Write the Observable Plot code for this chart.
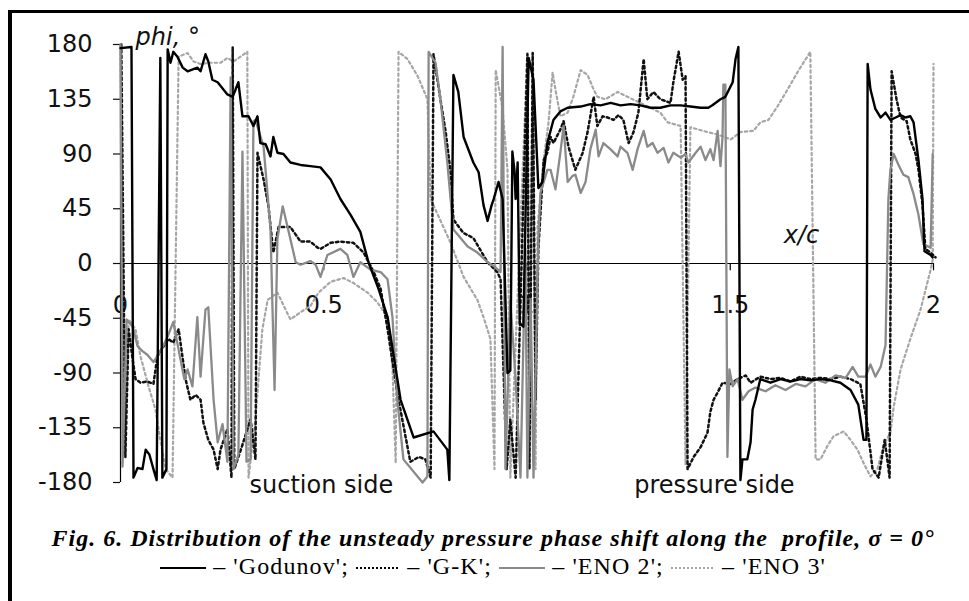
<!DOCTYPE html>
<html>
<head>
<meta charset="utf-8">
<script src="https://cdn.jsdelivr.net/npm/d3@7"></script>
<script src="https://cdn.jsdelivr.net/npm/@observablehq/plot@0.6"></script>
<style>
  html, body { margin: 0; padding: 0; background: #fff; }
  body { width: 969px; height: 601px; position: relative; overflow: hidden; }
  #chart { position: absolute; left: 0; top: 0; }
  #frame { position: absolute; left: 8px; top: 10px; right: 0; bottom: 0; border-left: 4px solid #000; border-top: 3px solid #000; z-index: 5; }
  .cap { position: absolute; left: 0; width: 986px; text-align: center; white-space: pre; font-family: "Liberation Serif", "Times New Roman", serif; color: #000; line-height: 26px; }
  #caption { top: 525px; font-size: 24px; letter-spacing: 1px; font-weight: bold; font-style: italic; }
  #legend { top: 553px; font-size: 24px; letter-spacing: 1.1px; }
  #legend svg { vertical-align: middle; }
</style>
</head>
<body>
<div id="chart"></div>
<div id="frame"></div>
<div id="caption" class="cap">Fig. 6. Distribution of the unsteady pressure phase shift along the  profile, σ = 0°</div>
<div id="legend" class="cap"></div>
<script>
// ---- data (x/c, phase in degrees) ----
const godunov = [[0,177],[0.027,178],[0.032,-176],[0.042,-168],[0.054,-169],[0.062,-153],[0.071,-157],[0.081,-169],[0.089,-178],[0.098,169],[0.103,-176],[0.113,-169],[0.116,176],[0.123,165],[0.130,174],[0.140,170],[0.153,161],[0.165,158],[0.189,161],[0.197,158],[0.209,172],[0.216,166],[0.226,151],[0.239,149],[0.263,139],[0.276,137],[0.290,149],[0.300,121],[0.315,121],[0.327,113],[0.337,121],[0.344,99],[0.357,98],[0.369,88],[0.376,104],[0.386,91],[0.401,90],[0.418,83],[0.443,81],[0.467,80],[0.492,79],[0.517,69],[0.541,53],[0.566,40],[0.590,26],[0.610,1],[0.635,-21],[0.657,-44],[0.689,-112],[0.721,-143],[0.770,-138],[0.804,-153],[0.809,-178],[0.819,155],[0.831,141],[0.844,104],[0.868,83],[0.881,75],[0.893,48],[0.903,35],[0.913,48],[0.918,53],[0.930,67],[0.940,53],[0.952,-90],[0.959,-88],[0.964,92],[0.969,77],[0.972,53],[0.977,83],[0.982,-49],[0.991,-52],[1.004,169],[1.016,151],[1.028,62],[1.038,67],[1.050,99],[1.065,118],[1.082,125],[1.100,128],[1.132,129],[1.156,131],[1.181,130],[1.206,132],[1.230,130],[1.255,131],[1.279,130],[1.304,128],[1.328,128],[1.353,130],[1.378,130],[1.402,129],[1.427,128],[1.446,128],[1.456,130],[1.476,135],[1.488,137],[1.506,149],[1.513,168],[1.520,178],[1.525,-178],[1.530,-161],[1.542,-161],[1.550,-147],[1.555,-120],[1.562,-112],[1.574,-95],[1.599,-98],[1.624,-95],[1.648,-97],[1.673,-95],[1.697,-96],[1.722,-95],[1.747,-96],[1.771,-98],[1.796,-104],[1.815,-116],[1.828,-145],[1.835,-145],[1.838,164],[1.845,143],[1.857,127],[1.870,120],[1.882,124],[1.894,118],[1.907,120],[1.919,122],[1.931,120],[1.943,121],[1.951,116],[1.963,85],[1.973,53],[1.976,25],[1.978,10],[1.993,7],[1.998,5]];

const gk = [[0.002,180],[0.012,-159],[0.020,-54],[0.030,-79],[0.037,-95],[0.049,-98],[0.066,-97],[0.081,-99],[0.091,-76],[0.106,-68],[0.118,-62],[0.130,-65],[0.143,-54],[0.160,-95],[0.172,-112],[0.185,-108],[0.197,-112],[0.204,-131],[0.216,-145],[0.229,-153],[0.239,-169],[0.246,-153],[0.263,-136],[0.273,-176],[0.276,178],[0.280,-169],[0.300,-149],[0.320,-128],[0.332,-161],[0.337,91],[0.352,69],[0.364,47],[0.376,9],[0.389,30],[0.418,30],[0.443,18],[0.467,18],[0.485,13],[0.492,12],[0.517,17],[0.541,18],[0.573,17],[0.598,9],[0.623,-7],[0.640,-21],[0.657,-54],[0.672,-87],[0.684,-112],[0.713,-163],[0.734,-159],[0.750,-161],[0.763,-176],[0.770,172],[0.787,135],[0.800,108],[0.812,75],[0.819,36],[0.844,25],[0.868,21],[0.903,1],[0.927,-7],[0.935,-13],[0.950,-169],[0.959,-128],[0.972,-176],[1.001,172],[1.006,-169],[1.014,173],[1.021,-112],[1.028,12],[1.041,85],[1.050,91],[1.058,104],[1.065,99],[1.082,110],[1.090,117],[1.102,96],[1.119,77],[1.137,91],[1.149,108],[1.164,137],[1.173,113],[1.186,121],[1.198,120],[1.213,118],[1.225,122],[1.237,118],[1.250,99],[1.262,108],[1.274,124],[1.287,168],[1.296,135],[1.311,141],[1.328,135],[1.353,132],[1.360,149],[1.373,174],[1.383,151],[1.390,154],[1.395,-169],[1.410,-159],[1.427,-151],[1.444,-139],[1.451,-122],[1.459,-112],[1.469,-106],[1.481,-98],[1.501,-99],[1.518,-95],[1.538,-92],[1.550,-98],[1.574,-93],[1.599,-95],[1.624,-94],[1.648,-97],[1.673,-93],[1.697,-95],[1.722,-94],[1.747,-95],[1.771,-93],[1.796,-95],[1.820,-99],[1.835,-128],[1.850,-169],[1.865,-176],[1.880,-145],[1.892,-176],[1.897,158],[1.909,135],[1.919,120],[1.934,117],[1.943,102],[1.956,90],[1.963,77],[1.973,48],[1.980,12],[1.993,9],[2.005,5]];

const eno2 = [[0,180],[0.005,-167],[0.015,-46],[0.030,-52],[0.042,-68],[0.054,-72],[0.066,-75],[0.081,-81],[0.093,-75],[0.106,-67],[0.116,-60],[0.130,-48],[0.143,-71],[0.157,-95],[0.165,-87],[0.177,-101],[0.189,-44],[0.197,-93],[0.209,-38],[0.216,-36],[0.229,-112],[0.239,-147],[0.251,-132],[0.263,-163],[0.271,153],[0.278,-169],[0.290,-157],[0.300,92],[0.310,-163],[0.320,-161],[0.327,117],[0.332,118],[0.352,96],[0.369,28],[0.379,-104],[0.386,20],[0.399,47],[0.418,20],[0.431,1],[0.443,-1],[0.467,2],[0.480,-1],[0.492,-11],[0.509,7],[0.541,12],[0.558,7],[0.573,-11],[0.590,1],[0.615,-5],[0.640,-7],[0.657,-13],[0.669,-44],[0.681,-112],[0.696,-161],[0.743,-180],[0.755,-175],[0.758,174],[0.775,165],[0.787,135],[0.804,83],[0.812,53],[0.819,28],[0.854,14],[0.878,9],[0.903,1],[0.918,-2],[0.935,-7],[0.940,178],[0.947,-169],[0.959,-30],[0.972,-95],[0.984,-176],[0.996,12],[1.001,-176],[1.009,-30],[1.016,-176],[1.028,20],[1.033,58],[1.050,77],[1.058,77],[1.070,61],[1.082,91],[1.090,113],[1.100,67],[1.112,72],[1.119,73],[1.132,58],[1.144,67],[1.156,94],[1.169,110],[1.176,88],[1.188,99],[1.205,94],[1.223,88],[1.230,96],[1.247,91],[1.260,77],[1.272,94],[1.287,109],[1.296,96],[1.309,99],[1.321,91],[1.336,95],[1.348,83],[1.360,91],[1.378,87],[1.390,90],[1.397,83],[1.415,91],[1.427,96],[1.439,85],[1.451,94],[1.459,85],[1.469,109],[1.476,80],[1.481,104],[1.483,147],[1.488,147],[1.493,-159],[1.498,-87],[1.506,-101],[1.518,-95],[1.530,-112],[1.545,-105],[1.562,-102],[1.587,-105],[1.611,-100],[1.636,-104],[1.661,-99],[1.685,-101],[1.710,-95],[1.734,-98],[1.759,-92],[1.784,-94],[1.801,-85],[1.815,-93],[1.833,-93],[1.845,-83],[1.857,-93],[1.870,-85],[1.882,-67],[1.889,53],[1.894,77],[1.902,90],[1.914,81],[1.926,73],[1.938,71],[1.951,57],[1.963,40],[1.975,16],[1.993,13],[1.998,90]];

const eno3 = [[0,178],[0.010,-157],[0.020,-46],[0.037,-54],[0.049,-76],[0.069,-101],[0.086,-120],[0.098,-145],[0.111,-169],[0.128,-176],[0.143,170],[0.165,173],[0.180,166],[0.197,164],[0.221,165],[0.246,165],[0.263,169],[0.278,166],[0.312,174],[0.315,-176],[0.332,-128],[0.349,-54],[0.362,-30],[0.386,-24],[0.418,-46],[0.443,-40],[0.467,-35],[0.487,-24],[0.517,-15],[0.549,-12],[0.573,-16],[0.608,-24],[0.632,-32],[0.657,-44],[0.669,-85],[0.677,-164],[0.684,174],[0.706,168],[0.731,154],[0.745,143],[0.755,135],[0.763,53],[0.812,17],[0.844,-11],[0.878,-30],[0.893,-44],[0.910,-62],[0.920,-169],[0.923,159],[0.930,146],[0.940,127],[0.952,77],[0.959,-176],[1.001,173],[1.006,-169],[1.014,173],[1.021,-169],[1.026,30],[1.041,85],[1.053,116],[1.063,157],[1.070,143],[1.082,121],[1.100,124],[1.114,137],[1.132,159],[1.149,155],[1.164,143],[1.173,137],[1.193,135],[1.223,141],[1.247,137],[1.279,132],[1.328,124],[1.346,116],[1.378,113],[1.390,-165],[1.402,112],[1.444,108],[1.469,106],[1.501,102],[1.525,108],[1.557,109],[1.574,116],[1.594,118],[1.616,129],[1.641,143],[1.665,157],[1.697,174],[1.710,-161],[1.722,-161],[1.739,-150],[1.754,-142],[1.779,-138],[1.796,-145],[1.813,-153],[1.828,-164],[1.845,-175],[1.862,-169],[1.877,-150],[1.894,-139],[1.902,-118],[1.919,-87],[1.943,-62],[1.968,-38],[1.993,-5],[1.998,3],[2.000,164]];

const yTicks = [-180, -135, -90, -45, 0, 45, 90, 135, 180];
const xTicks = [0, 0.5, 1, 1.5, 2];
const xTickLabels = ["0", "0.5", "1", "1.5", "2"];
const seriesNames = ["'Godunov'", "'G-K'", "'ENO 2'", "'ENO 3'"];

const X = d => d[0], Y = d => d[1];
const font = "DejaVu Sans, Verdana, sans-serif";

const chart = Plot.plot({
  width: 969,
  height: 505,
  marginLeft: 120,
  marginRight: 36,
  marginTop: 44,
  marginBottom: 23,
  style: { background: "transparent", fontFamily: font, color: "#111", overflow: "visible" },
  x: { domain: [0, 2], axis: null },
  y: { domain: [-180, 180], axis: null },
  marks: [
    Plot.ruleY([0], { x1: 0, x2: 2, stroke: "#000", strokeWidth: 1.2 }),
    Plot.ruleX([0], { y1: -180, y2: 180, stroke: "#000", strokeWidth: 1.2 }),
    Plot.ruleX(xTicks, { x: d => d, y1: 0, y2: -6, stroke: "#000", strokeWidth: 1.2 }),
    Plot.axisY(yTicks, { anchor: "left", tickSize: 7, tickPadding: 21, fontSize: 24, tickFormat: d => String(d), strokeWidth: 1.2 }),
    Plot.text(xTicks, { x: d => d, y: 0, dy: 42, text: (d, i) => xTickLabels[i], fontSize: 24, fill: "#111" }),
    Plot.line(eno3, { x: X, y: Y, stroke: "#a6a6a6", strokeWidth: 2.2, strokeDasharray: "2.5,3" }),
    Plot.line(gk, { x: X, y: Y, stroke: "#111", strokeWidth: 2.5, strokeDasharray: "2.5,3" }),
    Plot.line(eno2, { x: X, y: Y, stroke: "#8a8a8a", strokeWidth: 2.3 }),
    Plot.line(godunov, { x: X, y: Y, stroke: "#000", strokeWidth: 2.4 }),
    Plot.text(["phi, °"], { x: 0.037, y: 186, text: d => d, textAnchor: "start", fontSize: 24, fontStyle: "italic", fill: "#111" }),
    Plot.text(["x/c"], { x: 1.675, y: 23, text: d => d, fontSize: 24, fontStyle: "italic", fill: "#111" }),
    Plot.text(["suction side"], { x: 0.494, y: -182.5, text: d => d, fontSize: 24, fill: "#111" }),
    Plot.text(["pressure side"], { x: 1.461, y: -182.5, text: d => d, fontSize: 24, fill: "#111" })
  ]
});
document.getElementById("chart").appendChild(chart);

// legend line below the caption
const swatch = (stroke, dash, w) => `<svg width="${w}" height="8"><line x1="0" y1="4" x2="${w}" y2="4" stroke="${stroke}" stroke-width="1.8" ${dash ? `stroke-dasharray="${dash}"` : ""}/></svg>`;
const styles = [["#000", null, 46], ["#000", "2,2", 44], ["#8a8a8a", null, 46], ["#a6a6a6", "2,2", 44]];
document.getElementById("legend").innerHTML = styles.map((s, i) =>
  swatch(s[0], s[1], s[2]) + " – " + seriesNames[i] + (i < styles.length - 1 ? "; " : "")
).join("");
</script>
</body>
</html>
